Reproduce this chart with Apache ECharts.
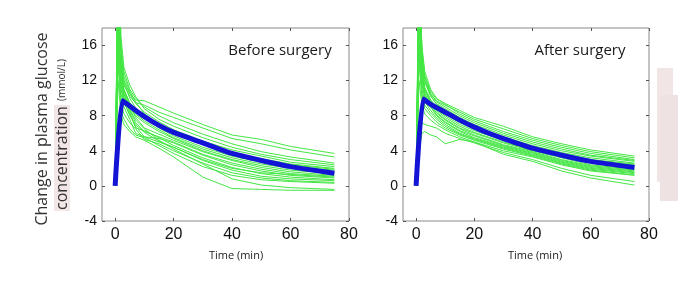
<!DOCTYPE html>
<html>
<head>
<meta charset="utf-8">
<script src="https://cdn.jsdelivr.net/npm/echarts@6/dist/echarts.min.js"></script>
<style>
  html, body { margin: 0; padding: 0; background: #fff; }
  #chart { width: 685px; height: 281px; }
</style>
</head>
<body>
<div id="chart"></div>
<script>
// sampling times (min) for each subject curve
const times = [0, 1, 2, 3, 5, 7, 10, 15, 20, 30, 40, 50, 60, 75]

// individual subjects, before surgery
const beforeSubjects = [
  [0, 26, 15, 12, 10.5, 9.8, 9.7, 9.0, 8.3, 7.0, 5.8, 5.3, 4.5, 3.7],
  [0, 24, 14, 11.5, 10.2, 9.5, 9.2, 8.4, 7.8, 6.6, 5.4, 4.8, 4.1, 3.3],
  [0, 22, 16, 13, 11, 10, 9.0, 8.0, 7.2, 5.9, 4.8, 3.9, 3.3, 2.6],
  [0, 28, 17, 13.5, 11.5, 10.2, 8.8, 7.6, 6.8, 5.5, 4.4, 3.6, 3.0, 2.4],
  [0, 20, 14, 12, 10.5, 9.4, 8.4, 7.3, 6.4, 5.1, 4.1, 3.4, 2.7, 2.2],
  [0, 25, 15, 12.5, 10.8, 9.6, 8.2, 7.0, 6.2, 4.8, 3.8, 3.1, 2.5, 2.0],
  [0, 19, 13, 11, 9.5, 8.6, 7.8, 6.8, 6.0, 4.7, 3.7, 3.0, 2.4, 1.9],
  [0, 23, 14.5, 11.8, 10, 8.9, 7.9, 6.6, 5.7, 4.4, 3.4, 2.7, 2.2, 1.8],
  [0, 21, 13.5, 11, 9.3, 8.2, 7.4, 6.4, 5.5, 4.2, 3.2, 2.5, 2.0, 1.6],
  [0, 18.5, 12.5, 10.5, 9.0, 8.0, 7.2, 6.2, 5.4, 4.0, 3.0, 2.3, 1.8, 1.4],
  [0, 24, 13, 10.8, 9.2, 7.8, 6.6, 5.9, 5.2, 3.9, 2.9, 2.1, 1.6, 1.2],
  [0, 20, 12, 10, 8.6, 7.2, 6.2, 5.6, 5.0, 3.6, 2.6, 1.9, 1.4, 1.1],
  [0, 17, 11, 9.5, 8.2, 6.8, 5.6, 5.4, 4.9, 3.5, 2.4, 1.7, 1.2, 0.9],
  [0, 22, 12.5, 10.2, 8.4, 6.6, 6.3, 5.5, 4.6, 3.2, 2.1, 1.4, 1.0, 0.7],
  [0, 16, 10.5, 9.0, 7.6, 6.0, 5.6, 5.0, 4.4, 2.9, 1.8, 1.1, 0.8, 0.6],
  [0, 15, 9.5, 8.2, 7.2, 6.5, 5.3, 4.8, 4.0, 2.6, 1.5, 0.9, 0.6, 0.4],
  [0, 14, 8.5, 7.6, 6.5, 5.8, 5.5, 4.6, 3.7, 2.2, 1.2, 0.7, 0.5, 0.3],
  [0, 12, 8.0, 7.0, 6.2, 5.6, 5.2, 4.3, 3.3, 1.0, -0.3, -0.4, -0.5, -0.5],
  [0, 26, 13, 10.5, 8.8, 7.5, 6.5, 5.2, 4.2, 2.5, 0.8, 0.1, -0.2, -0.4],
  [0, 18, 11.5, 9.6, 8.0, 7.0, 6.1, 5.1, 4.4, 3.0, 2.0, 1.5, 1.3, 1.0]
]

// individual subjects, after surgery
const afterSubjects = [
  [0, 26, 15, 12.5, 10.8, 9.9, 9.4, 8.6, 7.8, 6.8, 5.6, 4.8, 4.1, 3.4],
  [0, 24, 14, 12, 10.5, 9.7, 9.2, 8.4, 7.6, 6.5, 5.4, 4.6, 3.9, 3.2],
  [0, 22, 16, 13, 11, 10, 9.3, 8.2, 7.4, 6.2, 5.2, 4.4, 3.7, 3.0],
  [0, 28, 15.5, 12.5, 10.5, 9.6, 9.0, 8.0, 7.2, 6.0, 5.0, 4.2, 3.5, 2.9],
  [0, 21, 14, 11.8, 10.2, 9.4, 8.8, 7.8, 7.0, 5.8, 4.8, 4.0, 3.4, 2.8],
  [0, 25, 14.5, 12, 10.3, 9.3, 8.6, 7.6, 6.8, 5.6, 4.6, 3.8, 3.2, 2.6],
  [0, 20, 13, 11, 9.8, 9.0, 8.4, 7.4, 6.6, 5.4, 4.5, 3.7, 3.0, 2.5],
  [0, 23, 13.5, 11.2, 9.8, 8.9, 8.2, 7.2, 6.5, 5.3, 4.3, 3.5, 2.9, 2.4],
  [0, 19, 12.5, 10.8, 9.5, 8.7, 8.0, 7.0, 6.3, 5.2, 4.2, 3.4, 2.7, 2.2],
  [0, 24, 13, 11, 9.6, 8.6, 7.8, 6.8, 6.1, 5.0, 4.1, 3.3, 2.6, 2.0],
  [0, 18, 12, 10.4, 9.2, 8.4, 7.6, 6.6, 6.0, 4.9, 4.0, 3.2, 2.4, 1.9],
  [0, 22, 12.5, 10.5, 9.3, 8.3, 7.5, 6.5, 5.8, 4.7, 3.9, 3.0, 2.3, 1.8],
  [0, 17, 11.5, 10, 9.0, 8.1, 7.3, 6.3, 5.7, 4.6, 3.8, 2.9, 2.2, 1.7],
  [0, 20, 12, 10.2, 9.0, 8.0, 7.2, 6.2, 5.5, 4.5, 3.7, 2.8, 2.1, 1.6],
  [0, 16, 11, 9.6, 8.6, 7.8, 7.0, 6.0, 5.4, 4.4, 3.6, 2.7, 2.0, 1.5],
  [0, 15, 10.5, 9.2, 8.3, 7.6, 6.8, 5.9, 5.3, 4.3, 3.5, 2.6, 1.9, 1.4],
  [0, 14, 10, 8.8, 8.0, 7.3, 6.6, 5.8, 5.2, 4.2, 3.4, 2.5, 1.8, 1.25],
  [0, 12, 9.2, 8.2, 7.5, 7.0, 6.4, 5.6, 5.0, 4.0, 3.3, 2.4, 1.7, 1.2],
  [0, 6, 7.2, 7.0, 6.8, 6.6, 6.0, 5.4, 4.9, 3.8, 3.0, 2.0, 1.2, 0.5],
  [0, 4, 6.0, 6.2, 5.8, 5.6, 4.8, 5.3, 5.0, 3.6, 2.8, 1.7, 0.9, 0.1]
]

// group mean curves
const meanTimes = [0, 2.5, 5, 10, 15, 20, 25, 30, 40, 50, 60, 75]
const beforeMean = [0, 9.7, 9.1, 7.9, 6.9, 6.1, 5.5, 4.9, 3.7, 2.9, 2.2, 1.45]
const afterMean = [0, 9.9, 9.3, 8.4, 7.5, 6.7, 6.0, 5.4, 4.3, 3.5, 2.8, 2.1]

const xTicks = [0, 20, 40, 60, 80]
const yTicks = [-4, 0, 4, 8, 12, 16]
const panelTitles = ['Before surgery', 'After surgery']
const xTitle = 'Time (min)'

const chart = echarts.init(document.getElementById('chart'), null, { renderer: 'canvas' })

const green = '#44e644'
const blue = '#1414d6'
const frame = '#8a8a8a'

const grids = [
  { left: 102, top: 28, width: 247, height: 193, show: true, borderColor: frame, borderWidth: 1 },
  { left: 403, top: 28, width: 246, height: 193, show: true, borderColor: frame, borderWidth: 1 }
]

const xAxes = []
const yAxes = []
grids.forEach((g, i) => {
  const base = {
    gridIndex: i, type: 'value', min: -4.5, max: 80,
    splitLine: { show: false },
    axisLine: { show: false, onZero: false },
    axisTick: { show: true, inside: true, length: 3, customValues: xTicks, lineStyle: { color: '#555' } }
  }
  xAxes.push(Object.assign({}, base, {
    position: 'bottom',
    axisLabel: { customValues: xTicks, color: '#111', fontSize: 16, fontFamily: 'Liberation Sans', margin: 6 }
  }))
  xAxes.push(Object.assign({}, base, { position: 'top', axisLabel: { show: false } }))
  const ybase = {
    gridIndex: i, type: 'value', min: -4, max: 18,
    splitLine: { show: false },
    axisLine: { show: false, onZero: false },
    axisTick: { show: true, inside: true, length: 3, customValues: yTicks, lineStyle: { color: '#555' } }
  }
  yAxes.push(Object.assign({}, ybase, {
    position: 'left',
    axisLabel: { customValues: yTicks, color: '#111', fontSize: 14, fontFamily: 'Liberation Sans', margin: 5 }
  }))
  yAxes.push(Object.assign({}, ybase, { position: 'right', axisLabel: { show: false } }))
})

const series = []
;[beforeSubjects, afterSubjects].forEach((subjects, i) => {
  subjects.forEach(vals => {
    series.push({
      type: 'line', xAxisIndex: i * 2, yAxisIndex: i * 2,
      data: vals.map((v, k) => [times[k], v]),
      symbol: 'none', silent: true, clip: true,
      lineStyle: { color: green, width: 1 }
    })
  })
})
;[beforeMean, afterMean].forEach((vals, i) => {
  series.push({
    type: 'line', xAxisIndex: i * 2, yAxisIndex: i * 2,
    data: vals.map((v, k) => [meanTimes[k], v]),
    symbol: 'none', silent: true, z: 5, smooth: 0.2,
    lineStyle: { color: blue, width: 5, join: 'round' }
  })
})

const txt = (x, y, text, size, extra) => ({
  type: 'text', x, y,
  style: Object.assign({ text, fill: '#1a1a1a', font: size + 'px "Open Sans"', align: 'center', verticalAlign: 'middle' }, extra || {})
})

const graphic = [
  // stray pink patches at the right edge of the figure
  { type: 'rect', shape: { x: 657, y: 68, width: 16, height: 114 }, style: { fill: '#f1e5e5' } },
  { type: 'rect', shape: { x: 660, y: 95, width: 18, height: 106 }, style: { fill: '#efe2e2' } },
  txt(280, 51, panelTitles[0], 15),
  txt(580, 51, panelTitles[1], 15),
  txt(236, 256, xTitle, 11),
  txt(535, 256, xTitle, 11),
  Object.assign(txt(42, 129, 'Change in plasma glucose', 16, { fill: '#333' }), { rotation: Math.PI / 2 }),
  Object.assign(txt(62, 158, 'concentration', 16, { fill: '#333', backgroundColor: '#f3e6e6', padding: [0, 1] }), { rotation: Math.PI / 2 }),
  Object.assign(txt(62, 80, '(mmol/L)', 10, { fill: '#333' }), { rotation: Math.PI / 2 })
]

chart.setOption({
  animation: false,
  backgroundColor: '#fff',
  grid: grids,
  xAxis: xAxes,
  yAxis: yAxes,
  series,
  graphic
})
</script>
</body>
</html>
